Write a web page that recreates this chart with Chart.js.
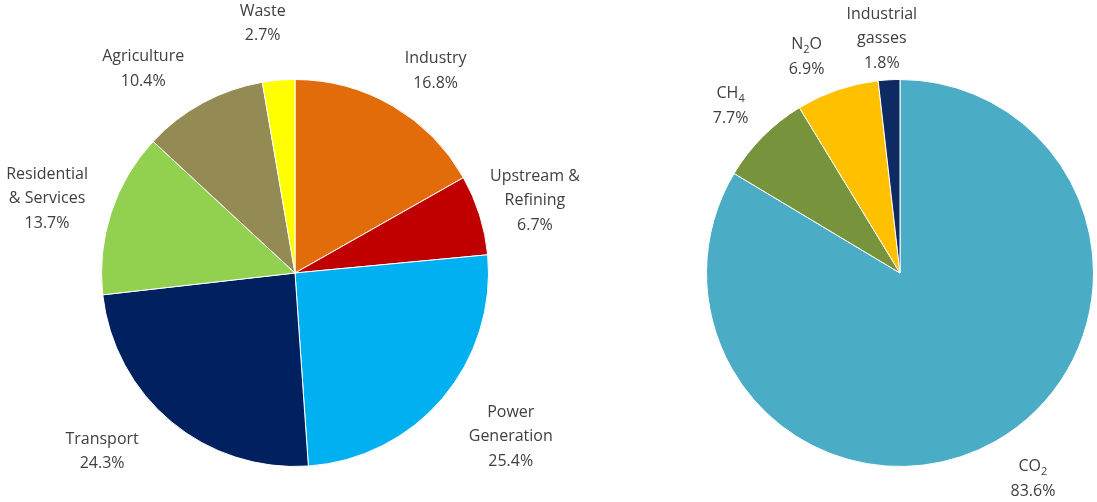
<!DOCTYPE html>
<html>
<head>
<meta charset="utf-8">
<script src="https://cdn.jsdelivr.net/npm/chart.js@4"></script>
<style>
  body { margin: 0; background: #fff; }
  #wrap { position: relative; width: 1097px; height: 502px; }
  canvas { position: absolute; top: 0; }
</style>
</head>
<body>
<div id="wrap">
  <canvas id="sectorChart" width="600" height="502" style="left:0"></canvas>
  <canvas id="gasChart" width="497" height="502" style="left:600px"></canvas>
</div>
<script>
// settori (torta a sinistra)
const sectorLabels = ['Industry', 'Upstream &\nRefining', 'Power\nGeneration', 'Transport', 'Residential\n& Services', 'Agriculture', 'Waste'];
const sectorValues = [16.8, 6.7, 25.4, 24.3, 13.7, 10.4, 2.7];
const sectorColors = ['#E36C0A', '#C00000', '#00B0F0', '#002060', '#92D050', '#948A54', '#FFFF00'];

// gas (torta a destra)
const gasLabels = ['CO₂', 'CH₄', 'N₂O', 'Industrial\ngasses'];
const gasValues = [83.6, 7.7, 6.9, 1.8];
const gasColors = ['#4BACC6', '#77933C', '#FFC000', '#0E2A63'];

// spostamenti delle etichette (solo layout)
const sectorNudge = [[14, 15], [0, 3], [24, 1], [-32, -15], [-9, 4], [-32, 17], [-11, 1]];
const gasNudge = [[9, -13], [9, 10], [-12, 22], [-4, 17]];

const FONT = '16px "Open Sans"';
const SUBFONT = '11px "Open Sans"';
const subMap = { '₀': '0', '₁': '1', '₂': '2', '₃': '3', '₄': '4' };

// scrive una riga con pedici
function drawRich(ctx, text, cx, y) {
  const parts = [];
  for (const ch of text) {
    const sub = ch in subMap;
    const c = sub ? subMap[ch] : ch;
    if (parts.length && parts[parts.length - 1].sub === sub) parts[parts.length - 1].t += c;
    else parts.push({ t: c, sub: sub });
  }
  let total = 0;
  parts.forEach(p => { ctx.font = p.sub ? SUBFONT : FONT; p.w = ctx.measureText(p.t).width; total += p.w; });
  let x = cx - total / 2;
  parts.forEach(p => {
    ctx.font = p.sub ? SUBFONT : FONT;
    ctx.fillText(p.t, x, p.sub ? y + 5 : y);
    x += p.w;
  });
}

const labelPlugin = {
  id: 'outsideLabels',
  afterDatasetsDraw(chart, args, opts) {
    const ctx = chart.ctx;
    const meta = chart.getDatasetMeta(0);
    const ds = chart.data.datasets[0];
    ctx.save();
    ctx.fillStyle = '#404040';
    ctx.textAlign = 'left';
    ctx.textBaseline = 'middle';
    meta.data.forEach((arc, i) => {
      const mid = (arc.startAngle + arc.endAngle) / 2;
      const d = arc.outerRadius + 58;
      const lines = chart.data.labels[i].split('\n').concat([ds.data[i].toFixed(1) + '%']);
      const nudge = opts.nudge[i];
      const cx = arc.x + Math.cos(mid) * d + nudge[0];
      const cy = arc.y + Math.sin(mid) * d + nudge[1];
      const lh = 24.5;
      lines.forEach((l, k) => {
        drawRich(ctx, l, cx, cy + (k - (lines.length - 1) / 2) * lh);
      });
    });
    ctx.restore();
  }
};

function makePie(id, labels, values, colors, nudge, padding) {
  return new Chart(id, {
    type: 'pie',
    data: {
      labels: labels,
      datasets: [{
        data: values,
        backgroundColor: colors,
        borderColor: '#ffffff',
        borderWidth: 1
      }]
    },
    options: {
      responsive: false,
      animation: false,
      layout: { padding: padding },
      plugins: {
        legend: { display: false },
        tooltip: { enabled: false },
        outsideLabels: { nudge: nudge }
      }
    },
    plugins: [labelPlugin]
  });
}

makePie('sectorChart', sectorLabels, sectorValues, sectorColors, sectorNudge, { left: 101, right: 111, top: 79, bottom: 35 });
makePie('gasChart', gasLabels, gasValues, gasColors, gasNudge, { left: 106, right: 3, top: 79, bottom: 35 });
</script>
</body>
</html>
